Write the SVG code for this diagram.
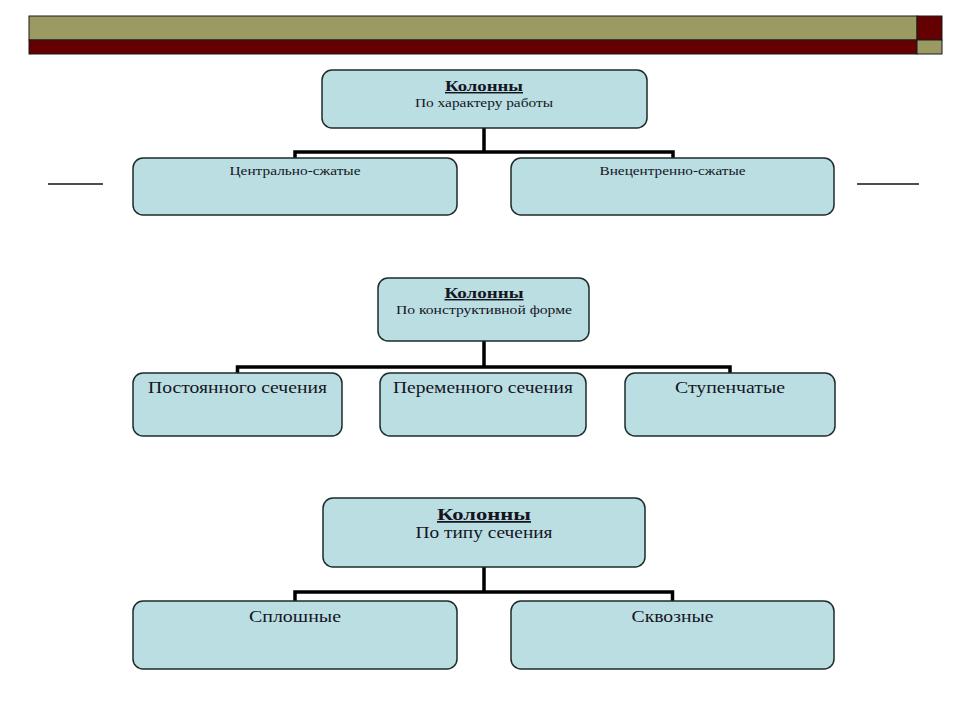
<svg xmlns="http://www.w3.org/2000/svg" width="960" height="720" viewBox="0 0 960 720">
<style>
.box{fill:#badee2;stroke:#1e2b2b;stroke-width:1.5}
.t{font-family:"Liberation Serif","Times New Roman",serif;fill:#15151f;text-anchor:middle}
.b{font-weight:bold;text-decoration:underline}
.con{fill:none;stroke:#000;stroke-width:3.5}
.side{stroke:#111;stroke-width:1.5}
</style>
<rect width="960" height="720" fill="#fff"/>
<g id="header">
<rect x="29" y="16" width="888" height="24" fill="#9b9a63" stroke="#1a1a1a" stroke-width="1"/>
<rect x="29" y="40" width="888" height="14" fill="#640002" stroke="#1a1a1a" stroke-width="1"/>
<rect x="917" y="16" width="25" height="24" fill="#640002" stroke="#1a1a1a" stroke-width="1"/>
<rect x="917" y="40" width="25" height="14" fill="#9b9a63" stroke="#1a1a1a" stroke-width="1"/>
</g>
<g id="side-lines">
<line class="side" x1="48" y1="184" x2="103" y2="184"/>
<line class="side" x1="857" y1="184" x2="919" y2="184"/>
</g>
<g id="connectors">
<path class="con" d="M484 128V152M295 158V152H673V158"/>
<path class="con" d="M484 341V367M237.5 373V367H730V373"/>
<path class="con" d="M484 567V592M295 601V592H672.5V601"/>
</g>
<g id="root1">
<rect class="box" x="322" y="70" width="325" height="58" rx="10"/>
<text class="t b" x="484" y="91" font-size="14.5" textLength="78" lengthAdjust="spacingAndGlyphs">Колонны</text>
<text class="t" x="484" y="107" font-size="13" textLength="138" lengthAdjust="spacingAndGlyphs">По характеру работы</text>
</g>
<g id="node-central">
<rect class="box" x="133" y="158" width="324" height="57" rx="10"/>
<text class="t" x="295" y="175" font-size="13" textLength="131" lengthAdjust="spacingAndGlyphs">Центрально-сжатые</text>
</g>
<g id="node-eccentric">
<rect class="box" x="511" y="158" width="323" height="57" rx="10"/>
<text class="t" x="672.5" y="175" font-size="13" textLength="146" lengthAdjust="spacingAndGlyphs">Внецентренно-сжатые</text>
</g>
<g id="root2">
<rect class="box" x="378" y="278" width="211" height="63" rx="10"/>
<text class="t b" x="484" y="298" font-size="14.5" textLength="79" lengthAdjust="spacingAndGlyphs">Колонны</text>
<text class="t" x="484" y="314" font-size="13" textLength="176" lengthAdjust="spacingAndGlyphs">По конструктивной форме</text>
</g>
<g id="node-constant">
<rect class="box" x="133" y="373" width="209" height="63" rx="10"/>
<text class="t" x="237.5" y="393" font-size="16" textLength="179" lengthAdjust="spacingAndGlyphs">Постоянного сечения</text>
</g>
<g id="node-variable">
<rect class="box" x="380" y="373" width="206" height="63" rx="10"/>
<text class="t" x="483" y="393" font-size="16" textLength="180" lengthAdjust="spacingAndGlyphs">Переменного сечения</text>
</g>
<g id="node-stepped">
<rect class="box" x="625" y="373" width="210" height="63" rx="10"/>
<text class="t" x="730" y="393" font-size="16" textLength="110" lengthAdjust="spacingAndGlyphs">Ступенчатые</text>
</g>
<g id="root3">
<rect class="box" x="323" y="498" width="322" height="69" rx="10"/>
<text class="t b" x="484" y="520" font-size="17.5" textLength="94" lengthAdjust="spacingAndGlyphs">Колонны</text>
<text class="t" x="484" y="538" font-size="16" textLength="137" lengthAdjust="spacingAndGlyphs">По типу сечения</text>
</g>
<g id="node-solid">
<rect class="box" x="133" y="601" width="324" height="68" rx="10"/>
<text class="t" x="295" y="622" font-size="16" textLength="92" lengthAdjust="spacingAndGlyphs">Сплошные</text>
</g>
<g id="node-lattice">
<rect class="box" x="511" y="601" width="323" height="68" rx="10"/>
<text class="t" x="672.5" y="622" font-size="16" textLength="82" lengthAdjust="spacingAndGlyphs">Сквозные</text>
</g>
</svg>
